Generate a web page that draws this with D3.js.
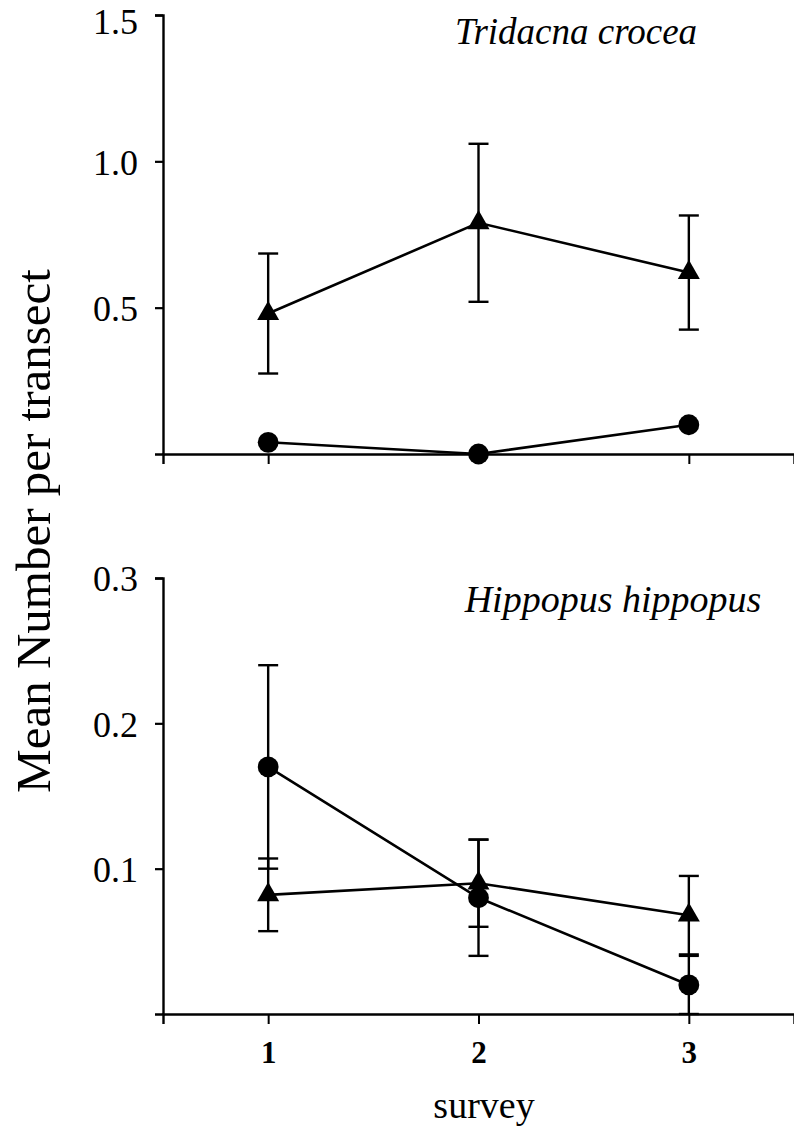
<!DOCTYPE html>
<html>
<head>
<meta charset="utf-8">
<script src="https://cdn.jsdelivr.net/npm/d3@7"></script>
<style>
  body { margin: 0; background: #fff; }
  svg text { font-family: "Liberation Serif", "Times New Roman", serif; fill: #000; }
</style>
</head>
<body>
<svg width="794" height="1130"></svg>
<script>
// survey numbers
var surveys = [1, 2, 3];

// Tridacna crocea (top panel)
var croceaTri = [0.48, 0.79, 0.62];
var croceaTriSE = [0.205, 0.27, 0.195];
var croceaCirc = [0.04, 0.0, 0.10];

// Hippopus hippopus (bottom panel)
var hippoCirc = [0.17, 0.08, 0.02];
var hippoCircSE = [0.07, 0.04, 0.02];
var hippoTri = [0.082, 0.09, 0.068];
var hippoTriSE = [0.025, 0.03, 0.027];

var topTicks = [0.5, 1.0, 1.5];
var bottomTicks = [0.1, 0.2, 0.3];

var svg = d3.select('svg');

var x = d3.scaleLinear().domain([0.5, 3.5]).range([163, 794]);

function panel(opts){
  var y = d3.scaleLinear().domain(opts.domain).range(opts.range);

  // y axis
  var ya = svg.append('g')
    .attr('transform', 'translate(163,0)')
    .call(d3.axisLeft(y).tickValues(opts.ticks).tickSizeOuter(0)
      .tickSize(8).tickPadding(17).tickFormat(d3.format('.1f')));
  ya.select('.domain').attr('stroke-width', 2.4);
  ya.selectAll('.tick line').attr('stroke-width', 2.2);
  ya.selectAll('.tick text')
    .style('font-size', '36px')
    .attr('dy', function(d){ return d === opts.domain[1] && opts.range[1] < 30 ? '0.5em' : '0.36em'; })
    .attr('font-family', null);

  // x axis
  var xa = svg.append('g')
    .attr('transform', 'translate(0,' + y(0) + ')')
    .call(d3.axisBottom(x).tickValues(surveys).tickSizeOuter(0)
      .tickSize(10).tickPadding(17)
      .tickFormat(opts.xLabels ? d3.format('d') : function(){ return ''; }));
  xa.select('.domain').attr('stroke-width', 2.4);
  xa.selectAll('.tick line').attr('stroke-width', 2);
  xa.selectAll('.tick text')
    .style('font-size', '31px')
    .style('font-weight', 'bold')
    .attr('font-family', null);

  // error bars
  opts.err.forEach(function(s){
    var g = svg.append('g').attr('stroke', '#000').attr('stroke-width', 2.4);
    s.vals.forEach(function(v, i){
      var cx = x(surveys[i]);
      var lo = y(v - s.se[i]), hi = y(v + s.se[i]);
      g.append('line').attr('x1', cx).attr('x2', cx).attr('y1', lo).attr('y2', hi);
      g.append('line').attr('x1', cx - 10).attr('x2', cx + 10).attr('y1', lo).attr('y2', lo);
      g.append('line').attr('x1', cx - 10).attr('x2', cx + 10).attr('y1', hi).attr('y2', hi);
    });
  });

  var line = d3.line()
    .x(function(d, i){ return x(surveys[i]); })
    .y(function(d){ return y(d); });

  opts.series.forEach(function(s){
    svg.append('path')
      .datum(s.vals)
      .attr('d', line)
      .attr('fill', 'none')
      .attr('stroke', '#000')
      .attr('stroke-width', 2.6);

    svg.selectAll(null)
      .data(s.vals)
      .enter()
      .append('path')
        .attr('transform', function(d, i){ return 'translate(' + x(surveys[i]) + ',' + y(d) + ')'; })
        .attr('d', d3.symbol().type(s.shape).size(s.shape === d3.symbolCircle ? 340 : 210))
        .attr('fill', '#000');
  });

  svg.append('text')
    .attr('x', opts.titleX)
    .attr('y', opts.titleY)
    .attr('text-anchor', 'middle')
    .style('font-size', opts.titleSize)
    .style('font-style', 'italic')
    .text(opts.title);
}

panel({
  domain: [0, 1.5], range: [454, 15], ticks: topTicks, xLabels: false,
  err: [{vals: croceaTri, se: croceaTriSE}],
  series: [{vals: croceaTri, shape: d3.symbolTriangle}, {vals: croceaCirc, shape: d3.symbolCircle}],
  title: 'Tridacna crocea', titleX: 576, titleY: 44, titleSize: '37px'
});

panel({
  domain: [0, 0.3], range: [1014, 578], ticks: bottomTicks, xLabels: true,
  err: [{vals: hippoCirc, se: hippoCircSE}, {vals: hippoTri, se: hippoTriSE}],
  series: [{vals: hippoCirc, shape: d3.symbolCircle}, {vals: hippoTri, shape: d3.symbolTriangle}],
  title: 'Hippopus hippopus', titleX: 613, titleY: 612, titleSize: '38px'
});

// axis titles
svg.append('text')
  .attr('transform', 'translate(50,531) rotate(-90)')
  .attr('text-anchor', 'middle')
  .style('font-size', '49px')
  .text('Mean Number per transect');

svg.append('text')
  .attr('x', 484)
  .attr('y', 1118)
  .attr('text-anchor', 'middle')
  .style('font-size', '38px')
  .text('survey');
</script>
</body>
</html>
